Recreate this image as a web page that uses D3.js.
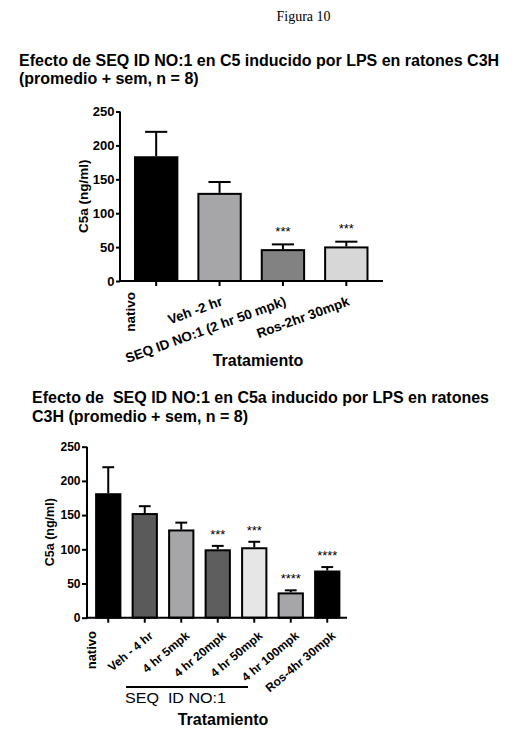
<!DOCTYPE html>
<html><head><meta charset="utf-8">
<script src="https://cdn.jsdelivr.net/npm/d3@7"></script>
<style>
html,body{margin:0;padding:0;background:#fff;}
text{font-family:"Liberation Sans",Arial,sans-serif;}
</style></head>
<body>
<script>
// ---- data ----
const yTicks = [0, 50, 100, 150, 200, 250];

const cats1 = ["nativo", "Veh -2 hr", "SEQ ID NO:1 (2 hr 50 mpk)", "Ros-2hr 30mpk"];
const means1 = [184, 130, 47, 51];
const sems1 = [36, 16, 7, 7];
const stars1 = ["", "", "***", "***"];
const colors1 = ["#000000", "#a6a6a8", "#828282", "#d7d7d7"];

const cats2 = ["nativo", "Veh - 4 hr", "4 hr 5mpk", "4 hr 20mpk", "4 hr 50mpk", "4 hr 100mpk", "Ros-4hr 30mpk"];
const means2 = [182, 153, 129, 100, 103, 37, 69];
const sems2 = [38, 10, 10, 5, 8, 3, 5];
const stars2 = ["", "", "", "***", "***", "****", "****"];
const colors2 = ["#000000", "#5a5a5a", "#a6a6a8", "#5e5e5e", "#e6e6e6", "#a6a6a8", "#000000"];

const W = 516, H = 735;
const svg = d3.select("body").append("svg").attr("width", W).attr("height", H)
  .style("display", "block");
svg.append("rect").attr("width", W).attr("height", H).attr("fill", "#fff");

svg.append("text").attr("x", 276.5).attr("y", 21)
  .style("font-family", "'Liberation Serif','Times New Roman',serif")
  .style("font-size", "14px").text("Figura 10");

function drawChart(cfg) {
  const g = svg.append("g");
  cfg.title.forEach((t, i) => {
    g.append("text").attr("x", cfg.titleX).attr("y", cfg.titleY + i * cfg.titleDy)
      .style("font-size", "16px").style("font-weight", "bold").style("white-space", "pre")
      .text(t);
  });
  const y = d3.scaleLinear().domain([0, 250]).range([cfg.y0, cfg.y1]);
  const x = d3.scaleBand().domain(cfg.cats).range(cfg.xr)
    .paddingInner(cfg.pad).paddingOuter(cfg.pad / 2);
  const bw = x.bandwidth();

  cfg.cats.forEach((c, i) => {
    const cx = x(c) + bw / 2;
    const top = y(cfg.means[i]);
    const et = y(cfg.means[i] + cfg.sems[i]);
    g.append("line").attr("x1", cx).attr("x2", cx).attr("y1", top).attr("y2", et)
      .attr("stroke", "#000").attr("stroke-width", 2);
    g.append("line").attr("x1", cx - bw * cfg.cap / 2).attr("x2", cx + bw * cfg.cap / 2)
      .attr("y1", et).attr("y2", et).attr("stroke", "#000").attr("stroke-width", 2);
    g.append("rect").attr("x", x(c) + 1).attr("y", top + 1)
      .attr("width", bw - 2).attr("height", y(0) - top - 1)
      .attr("fill", cfg.colors[i]).attr("stroke", "#000").attr("stroke-width", 2);
    if (cfg.stars[i]) {
      g.append("text").attr("x", cx).attr("y", et - cfg.starOff)
        .attr("text-anchor", "middle").style("font-size", "13px").text(cfg.stars[i]);
    }
  });

  const ya = g.append("g").attr("transform", `translate(${cfg.xAxis},0)`)
    .call(d3.axisLeft(y).tickValues(yTicks).tickSizeOuter(0).tickSizeInner(cfg.tick).tickPadding(1.5));
  ya.select(".domain").attr("stroke-width", 2).attr("d", `M0,${cfg.y0 + 1}V${cfg.y1}`);
  ya.selectAll(".tick line").attr("stroke-width", 2);
  ya.selectAll(".tick text").style("font-size", cfg.tickSize + "px").style("font-weight", "bold")
    .style("font-family", "'Liberation Sans',Arial,sans-serif").attr("fill", "#000");

  const xa = g.append("g").attr("transform", `translate(0,${cfg.y0})`)
    .call(d3.axisBottom(x).tickSizeOuter(0).tickSizeInner(5).tickFormat(""));
  xa.select(".domain").attr("stroke-width", 2).attr("d", `M${cfg.xAxis - 1},0H${cfg.xEnd}`);
  xa.selectAll(".tick line").attr("stroke-width", 2);

  cfg.cats.forEach((c, i) => {
    const cx = x(c) + bw / 2;
    if (i === 0) {
      g.append("text")
        .attr("transform", `translate(${cx + cfg.natDx},${cfg.natY}) rotate(-90)`)
        .attr("text-anchor", "end").style("font-size", cfg.natSize + "px")
        .style("font-weight", "bold").text(c);
    } else {
      g.append("text")
        .attr("transform", `translate(${cx + cfg.labDx},${cfg.labY}) rotate(${cfg.angle})`)
        .attr("text-anchor", "end").style("font-size", cfg.labSize + "px")
        .style("font-weight", "bold").text(c);
    }
  });

  g.append("text")
    .attr("transform", `translate(${cfg.yTitleX},${(cfg.y0 + cfg.y1) / 2}) rotate(-90)`)
    .attr("text-anchor", "middle").style("font-size", cfg.yTitleSize + "px").style("font-weight", "bold")
    .text("C5a (ng/ml)");
  g.append("text").attr("x", cfg.xTitleX).attr("y", cfg.xTitleY)
    .attr("text-anchor", "middle").style("font-size", "16px").style("font-weight", "bold")
    .text("Tratamiento");
  return { g, x };
}

drawChart({
  title: ["Efecto de SEQ ID NO:1 en C5 inducido por LPS en ratones C3H", "(promedio + sem, n = 8)"],
  titleX: 19, titleY: 66, titleDy: 17.5,
  cats: cats1, means: means1, sems: sems1, stars: stars1, colors: colors1,
  y0: 281, y1: 111.5, xr: [124.5, 378], pad: 0.3, cap: 0.5,
  xAxis: 120, xEnd: 383, starOff: 8.5, tick: 4, tickSize: 13,
  natDx: -21, natY: 292, natSize: 13.5, labDx: 4, labY: 305, angle: -20, labSize: 13.5,
  yTitleX: 88, yTitleSize: 13.5, xTitleX: 258, xTitleY: 366
});

const c2 = drawChart({
  title: ["Efecto de  SEQ ID NO:1 en C5a inducido por LPS en ratones", "C3H (promedio + sem, n = 8)"],
  titleX: 32, titleY: 403, titleDy: 18.5,
  cats: cats2, means: means2, sems: sems2, stars: stars2, colors: colors2,
  y0: 617.7, y1: 446.7, xr: [90, 345.5], pad: 0.28, cap: 0.45,
  xAxis: 87, xEnd: 347, starOff: 7, tick: 5, tickSize: 12,
  natDx: -12, natY: 631, natSize: 13, labDx: 9, labY: 637, angle: -40, labSize: 12,
  yTitleX: 54, yTitleSize: 12.5, xTitleX: 223, xTitleY: 725
});

c2.g.append("line").attr("x1", 126).attr("x2", 248).attr("y1", 687).attr("y2", 687)
  .attr("stroke", "#000").attr("stroke-width", 2);
c2.g.append("text").attr("x", 125).attr("y", 703).style("font-size", "15px")
  .style("white-space", "pre").attr("textLength", 101).attr("lengthAdjust", "spacingAndGlyphs")
  .text("SEQ  ID NO:1");
</script>
</body></html>
